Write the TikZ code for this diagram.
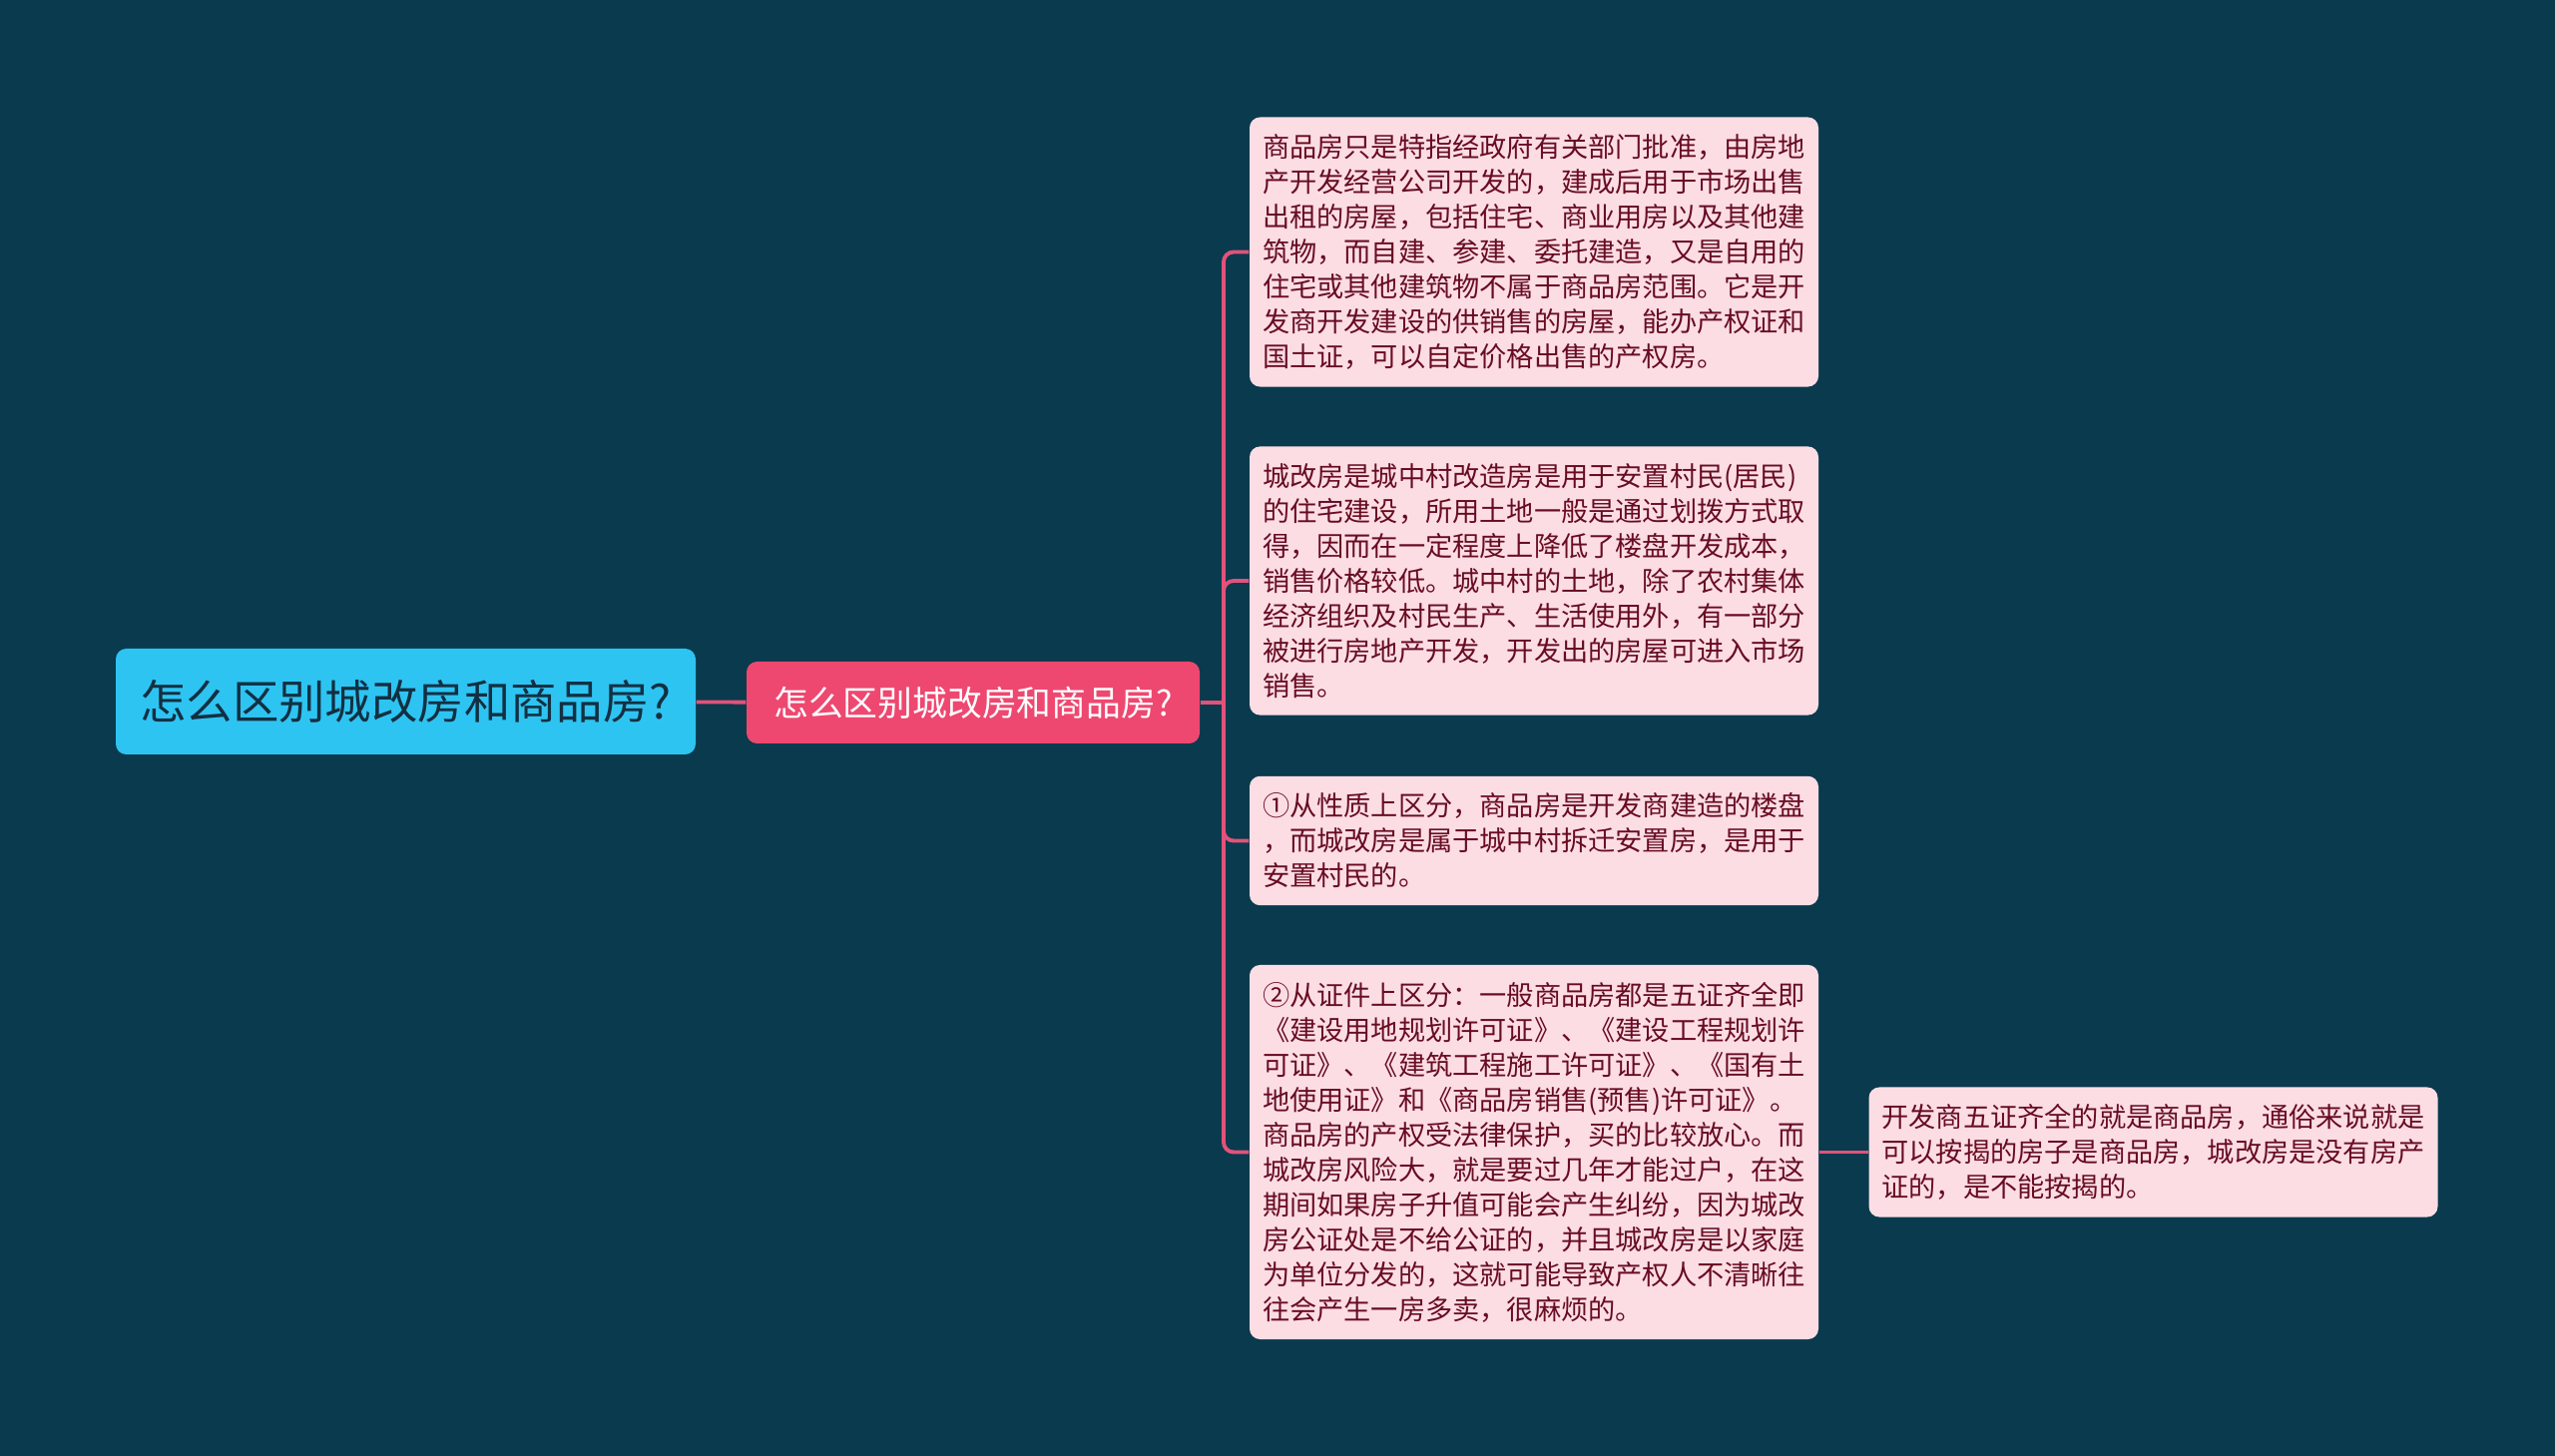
\documentclass[tikz,border=0pt]{standalone}
\usepackage{fontspec}
\setmainfont{Noto Sans CJK SC}
\usepackage{tikz}
\usetikzlibrary{positioning,calc}
\definecolor{bgteal}{RGB}{9,58,77}
\definecolor{rootcyan}{RGB}{46,196,242}
\definecolor{roottext}{RGB}{18,48,66}
\definecolor{subred}{RGB}{238,72,112}
\definecolor{linkpink}{RGB}{226,82,122}
\definecolor{leafpink}{RGB}{252,221,228}
\definecolor{leaftext}{RGB}{104,12,34}

\begin{document}
\begin{tikzpicture}[
  root/.style={fill=rootcyan, rounded corners=3pt, text=roottext,
               minimum width=5.81cm, minimum height=1.06cm,
               font=\fontsize{13.2pt}{15pt}\selectfont},
  sub/.style={fill=subred, rounded corners=3pt, text=white,
              minimum width=4.54cm, minimum height=0.82cm,
              font=\fontsize{9.9pt}{12pt}\selectfont},
  leaf/.style={fill=leafpink, rounded corners=3pt, text=leaftext,
               align=left, text width=5.44cm,
               inner xsep=0.13cm, inner ysep=0.17cm,
               font=\fontsize{7.74pt}{9.96pt}\selectfont},
  link/.style={draw=linkpink, line width=1.1pt, rounded corners=0.1cm}
]
\fill[bgteal] (0,0) rectangle (25.6,-14.59);
\useasboundingbox (0,0) rectangle (25.6,-14.59);

\node[root] (root) at (4.065,-7.03) {怎么区别城改房和商品房?};
\node[sub] (sub) at (9.75,-7.04) {怎么区别城改房和商品房?};
\coordinate (fork) at (12.26,-7.04);

\node[leaf] (leaf1) at (15.37,-2.525) {商品房只是特指经政府有关部门批准，由房地\\
产开发经营公司开发的，建成后用于市场出售\\
出租的房屋，包括住宅、商业用房以及其他建\\
筑物，而自建、参建、委托建造，又是自用的\\
住宅或其他建筑物不属于商品房范围。它是开\\
发商开发建设的供销售的房屋，能办产权证和\\
国土证，可以自定价格出售的产权房。};

\node[leaf] (leaf2) at (15.37,-5.82) {城改房是城中村改造房是用于安置村民(居民)\\
的住宅建设，所用土地一般是通过划拨方式取\\
得，因而在一定程度上降低了楼盘开发成本，\\
销售价格较低。城中村的土地，除了农村集体\\
经济组织及村民生产、生活使用外，有一部分\\
被进行房地产开发，开发出的房屋可进入市场\\
销售。};

\node[leaf] (leaf3) at (15.37,-8.425) {①从性质上区分，商品房是开发商建造的楼盘\\
，而城改房是属于城中村拆迁安置房，是用于\\
安置村民的。};

\node[leaf] (leaf4) at (15.37,-11.545) {②从证件上区分：一般商品房都是五证齐全即\\
《建设用地规划许可证》、《建设工程规划许\\
可证》、《建筑工程施工许可证》、《国有土\\
地使用证》和《商品房销售(预售)许可证》。\\
商品房的产权受法律保护，买的比较放心。而\\
城改房风险大，就是要过几年才能过户，在这\\
期间如果房子升值可能会产生纠纷，因为城改\\
房公证处是不给公证的，并且城改房是以家庭\\
为单位分发的，这就可能导致产权人不清晰往\\
往会产生一房多卖，很麻烦的。};

\node[leaf] (leaf5) at (21.575,-11.545) {开发商五证齐全的就是商品房，通俗来说就是\\
可以按揭的房子是商品房，城改房是没有房产\\
证的，是不能按揭的。};

\draw[link] (root) -- (sub);
\draw[link] (sub) -- (fork);
\foreach \i in {1,2,3,4} {
  \draw[link] (fork) |- (leaf\i.west);
}
\draw[link] (leaf4) -- (leaf5);
\end{tikzpicture}
\end{document}
